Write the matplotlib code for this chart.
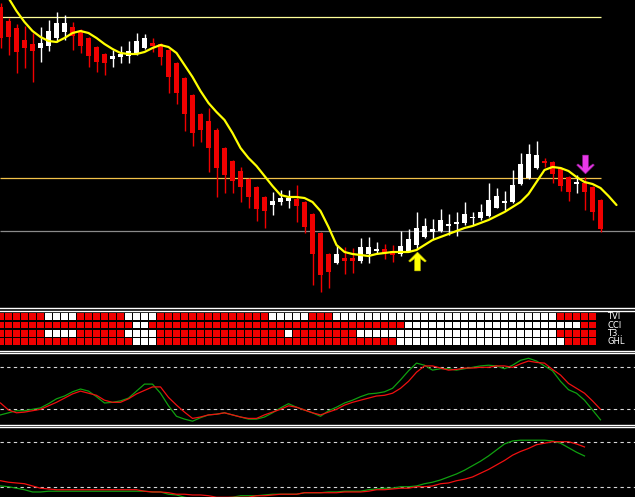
import matplotlib
matplotlib.use("Agg")
import matplotlib.pyplot as plt
from matplotlib.path import Path
from matplotlib.lines import Line2D
import numpy as np

W, H = 635, 497

# ---------------- main chart data (price in points) ----------------
opens = [393,379,372,360,356,352,354,362,368,373,369,362,353,346,341,343,344,346,352,357,
         356,350,337,322,305,286,279,270,252,239,229,221,213,203,195,198,199,201,198,186,
         167,146,137,142,142,139,146,149,151,149,146,149,155,163,168,169,174,176,177,182,
         182,184,192,197,198,216,222,232,239,238,232,223,216,217,213,200]
highs = [397,382,376,374,367,373,380,388,385,378,371,363,354,347,350,354,359,367,366,362,
         357,351,338,323,306,287,292,272,253,240,233,222,214,204,208,210,210,215,199,187,
         168,147,155,153,152,162,163,158,156,155,169,171,188,182,181,191,186,188,198,188,
         196,217,212,209,230,247,256,259,242,239,233,224,225,223,214,201]
lows = [352,345,327,332,318,338,349,358,360,350,347,333,328,325,333,337,337,345,351,348,
        335,307,296,269,254,258,228,203,207,207,198,192,179,172,185,195,192,178,167,115,
        108,112,136,126,127,137,137,146,141,138,144,148,151,162,161,168,165,164,175,175,
        180,183,192,190,197,215,221,231,233,217,209,199,207,190,180,168]
closes = [362,363,348,352,349,357,369,377,377,364,354,344,338,337,344,346,349,359,362,354,
          343,323,307,286,267,270,252,232,225,219,213,203,191,189,199,202,202,194,173,146,
          125,128,146,139,139,153,153,151,147,145,154,161,172,174,171,180,176,178,186,183,
          188,200,204,199,215,236,246,245,237,226,214,208,218,208,188,171]
ma = [415,402,389,378,369,363,359,358,362,367,369,367,362,356,351,347,346,346,348,352,
      355,353,347,335,323,309,297,288,280,267,252,242,234,224,214,205,203,203,202,198,
      189,173,155,148,146,145,144,146,147,148,148,148,150,155,160,163,166,169,172,174,
      177,180,184,188,193,198,206,218,230,233,232,229,223,218,216,212,204,195]
level_top, level_mid, level_low = 383, 222, 169
up_arrow_bar, up_arrow_price = 52, 139
down_arrow_bar, down_arrow_price = 73, 236

# ---------------- signal grid ----------------
grid_labels = ["TVI", "CCI", "T3..", "GHL"]
grid_rows = [
    "000000" "1111" "000000" "1111" "00000000000000" "11111" "000" "1111111111111111111111111111" "00000",
    "00000000000000000" "11" "00000000000000000000000000000000" "1111111111111111111111" "00",
    "000000" "1111" "000000" "1111" "0000000000000000" "1" "00000000" "1111111111111111111111111" "00000",
    "00000000000000000" "111" "000000000000000000000000000000" "111111111111111111111" "0000",
]

# ---------------- oscillator 1 ----------------
osc1_green = [12,15,18,18,20,22,28,35,39,45,49,46,38,29,30,32,36,46,56,56,
              43,25,10,6,3,8,12,13,15,12,9,6,6,9,15,22,28,23,19,15,
              10,18,23,29,33,38,42,43,45,50,62,75,86,83,76,78,78,76,78,80,
              82,83,82,78,83,90,93,89,82,75,60,48,43,33,19,5]
osc1_red = [29,19,15,16,18,20,25,30,36,42,46,43,40,33,30,30,35,42,47,52,
            52,37,26,16,7,9,12,13,15,12,9,7,7,12,16,20,25,23,19,15,
            12,16,20,26,30,33,36,39,40,43,50,60,73,82,82,79,76,77,79,79,
            80,80,82,82,80,85,89,87,86,77,69,57,50,43,32,20]
# ---------------- oscillator 2 ----------------
osc2_green = [21,20,18,16,13,13,14,14,14,14,14,14,14,14,14,14,14,14,14,13,
              13,10,9,6,4,2,2,4,5,6,8,8,8,9,10,10,10,10,12,12,
              12,13,13,14,14,14,16,17,18,18,20,20,21,24,26,29,33,37,42,48,
              54,61,69,77,81,82,82,82,82,81,78,72,66,61]
osc2_red = [28,26,25,24,21,18,17,16,16,16,16,16,16,16,16,16,16,16,14,13,
            13,12,10,10,9,9,8,6,6,6,6,6,8,8,9,10,10,10,12,12,
            12,12,12,13,13,13,14,16,16,17,18,18,20,20,21,24,25,28,30,33,
            38,43,49,55,62,67,71,76,78,80,80,80,77,73]
osc_levels = [80, 20]

RED = "#F00000"
XLIM = (-0.0625, 79.3125)

fig = plt.figure(figsize=(W / 100, H / 100), dpi=100, facecolor="black")


def add_ax(top, bottom):
    ax = fig.add_axes([0, 1 - bottom / H, 1, (bottom - top) / H])
    ax.set_facecolor("black")
    ax.set_xlim(*XLIM)
    ax.axis("off")
    return ax


# ---------------- main panel ----------------
ax = add_ax(0, 307)
ax.set_ylim(400 - 307, 400)
n = len(opens)
x = np.arange(n)
o = np.array(opens); c = np.array(closes); h = np.array(highs); l = np.array(lows)
bull = c > o
cols = np.where(bull, "#FFFFFF", RED)

ax.hlines([level_top, level_mid], XLIM[0], n - 1, colors=["#FFFF9A", "#F2C24A"], lw=0.9, zorder=1)
ax.hlines([level_low], XLIM[0], XLIM[1], colors=["#8A8A8A"], lw=0.9, zorder=1)

ax.vlines(x, l, h, colors=cols, lw=1.0, zorder=2)
body_bot = np.minimum(o, c)
body_h = np.maximum(np.abs(c - o), 1.2)
ax.bar(x, body_h, bottom=body_bot, width=0.62, color=cols, linewidth=0, zorder=3)

ax.plot(np.arange(len(ma)), ma, color="#FFFF00", lw=1.6, zorder=4, solid_capstyle="round")

# thick chevron-headed arrow marker (Wingdings style)
up_verts = [(0, 0.5), (0.47, 0.03), (0.40, -0.03), (0.15, 0.16), (0.15, -0.5),
            (-0.15, -0.5), (-0.15, 0.16), (-0.40, -0.03), (-0.47, 0.03), (0, 0.5)]
up_path = Path(up_verts, [Path.MOVETO] + [Path.LINETO] * 8 + [Path.CLOSEPOLY])
down_path = Path([(vx, -vy) for vx, vy in up_verts], up_path.codes)
ax.plot([up_arrow_bar], [up_arrow_price], marker=up_path, markersize=13.5,
        color="#FFFF00", markeredgecolor="#C8C800", markeredgewidth=0.4,
        linestyle="none", zorder=5)
ax.plot([down_arrow_bar], [down_arrow_price], marker=down_path, markersize=13.5,
        color="#E838E8", markeredgecolor="#A020A0", markeredgewidth=0.4,
        linestyle="none", zorder=5)

# ---------------- grid panel ----------------
axg = add_ax(312.5, 345.9)
axg.set_ylim(4, 0)
for r, row in enumerate(grid_rows):
    cc = ["#FFFFFF" if ch == "1" else RED for ch in row]
    axg.bar(np.arange(len(row)), 0.8, bottom=r + 0.1, width=0.86, color=cc, linewidth=0)
    axg.text(75.85, r + 0.5, grid_labels[r], color="white", fontsize=6,
             va="center", ha="left", family="DejaVu Sans")

# ---------------- oscillator panels ----------------
ax2 = add_ax(352, 424)
ax2.set_ylim(-1.0, 101.9)
for lv in osc_levels:
    ax2.axhline(lv, color="#D8D8D8", lw=0.8, ls=(0, (3, 3)))
ax2.plot(np.arange(len(osc1_green)), osc1_green, color="#10A010", lw=0.9)
ax2.plot(np.arange(len(osc1_red)), osc1_red, color="#F01010", lw=0.9)

ax3 = add_ax(427, 497)
ax3.set_ylim(6.3, 99.6)
for lv in osc_levels:
    ax3.axhline(lv, color="#D8D8D8", lw=0.8, ls=(0, (3, 3)))
ax3.plot(np.arange(len(osc2_green)), osc2_green, color="#10A010", lw=0.9)
ax3.plot(np.arange(len(osc2_red)), osc2_red, color="#F01010", lw=0.9)

# ---------------- window separators ----------------
for yy in [307.5, 310.5, 350.5, 352.5, 424.5, 427.0]:
    fig.add_artist(Line2D([0, 1], [1 - yy / H] * 2, color="white", lw=1.0,
                          transform=fig.transFigure))

fig.savefig("out.png", dpi=100, facecolor="black")
